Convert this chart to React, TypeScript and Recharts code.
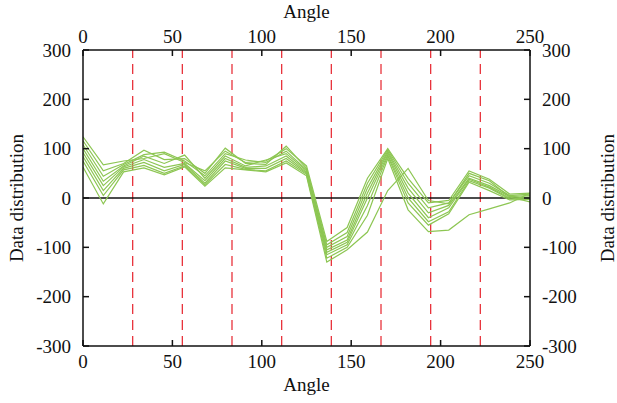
import React from 'react';
import { LineChart, Line, XAxis, YAxis, ReferenceLine, Label } from 'recharts';

const angles = [
  0, 11.36, 22.73, 34.09, 45.45, 56.82, 68.18, 79.55, 90.91, 102.27, 113.64, 125,
  136.36, 147.73, 159.09, 170.45, 181.82, 193.18, 204.55, 215.91, 227.27, 238.64, 250,
];

const series1 = [124, 67, 75, 80, 90, 72, 55, 95, 72, 75, 100, 65, -88, -60, 40, 100, 40, -10, -5, 55, 38, 8, 10];
const series2 = [116, 55, 70, 97, 78, 80, 50, 101, 70, 68, 105, 60, -95, -70, 30, 98, 30, -20, -10, 45, 30, 5, 8];
const series3 = [108, 44, 68, 88, 93, 75, 45, 90, 77, 72, 95, 57, -100, -78, 20, 95, 20, -30, -15, 40, 25, 3, 5];
const series4 = [100, 34, 65, 85, 70, 87, 40, 85, 65, 77, 90, 55, -105, -85, 10, 92, 10, -40, -20, 38, 22, 0, 2];
const series5 = [92, 25, 63, 78, 62, 70, 35, 80, 62, 65, 85, 52, -110, -90, 0, 88, 0, -48, -28, 35, 20, -2, 0];
const series6 = [84, 15, 60, 72, 55, 68, 30, 75, 60, 60, 80, 50, -115, -95, -15, 85, -10, -55, -32, 32, 15, -4, -3];
const series7 = [75, 5, 57, 66, 50, 65, 27, 68, 58, 55, 75, 48, -122, -100, -35, 80, -24, -68, -65, -34, -22, -10, 10];
const series8 = [63, -12, 53, 61, 47, 63, 24, 61, 57, 53, 71, 45, -130, -105, -69, 15, 60, -5, -12, 50, 35, 2, -8];

const allSeries = [series1, series2, series3, series4, series5, series6, series7, series8];

const xTicks = [0, 50, 100, 150, 200, 250];
const yTicks = [-300, -200, -100, 0, 100, 200, 300];
const dividers = [27.78, 55.56, 83.33, 111.11, 138.89, 166.67, 194.44, 222.22];

const data = angles.map((a, i) => {
  const row: { [key: string]: number } = { angle: a };
  allSeries.forEach((s, k) => {
    row[`s${k}`] = s[i];
  });
  return row;
});

const FONT = '"Liberation Serif", "Times New Roman", serif';
const tickStyle = { fill: '#111', fontSize: 19, fontFamily: FONT };

const VerticalTitle = (props: any) => {
  const { viewBox, dxFromLeft } = props;
  const x = viewBox.x + dxFromLeft;
  const y = viewBox.y + viewBox.height / 2;
  return (
    <text
      x={x}
      y={y}
      transform={`rotate(-90 ${x} ${y})`}
      textAnchor="middle"
      dominantBaseline="central"
      fill="#111"
      fontSize={19}
      fontFamily={FONT}
    >
      Data distribution
    </text>
  );
};

const App = () => {
  return (
    <div style={{ position: 'absolute', left: 0, top: 0, background: '#fff' }}>
      <LineChart width={617} height={403} data={data} margin={{ top: 0, right: 0, bottom: 0, left: 0 }}>
        <XAxis
          xAxisId="bottom"
          dataKey="angle"
          type="number"
          domain={[0, 250]}
          ticks={xTicks}
          orientation="bottom"
          height={57}
          tickSize={-6}
          tickMargin={15}
          tick={tickStyle}
          stroke="#111"
          strokeWidth={1.5}
          allowDataOverflow
        >
          <Label
            value="Angle"
            position="insideBottom"
            offset={12}
            style={{ fill: '#111', fontSize: 19, fontFamily: FONT }}
          />
        </XAxis>
        <XAxis
          xAxisId="top"
          dataKey="angle"
          type="number"
          domain={[0, 250]}
          ticks={xTicks}
          orientation="top"
          height={50}
          tickSize={-6}
          tickMargin={13}
          tick={tickStyle}
          stroke="#111"
          strokeWidth={1.5}
        >
          <Label
            value="Angle"
            position="insideTop"
            offset={5}
            style={{ fill: '#111', fontSize: 19, fontFamily: FONT }}
          />
        </XAxis>
        <YAxis
          yAxisId="left"
          type="number"
          domain={[-300, 300]}
          ticks={yTicks}
          width={83}
          tickSize={-6}
          tickMargin={18}
          tick={tickStyle}
          stroke="#111"
          strokeWidth={1.5}
          allowDataOverflow
        >
          <Label content={<VerticalTitle dxFromLeft={16} />} />
        </YAxis>
        <YAxis
          yAxisId="right"
          orientation="right"
          dataKey="s0"
          type="number"
          domain={[-300, 300]}
          ticks={yTicks}
          width={87}
          tickSize={-6}
          tickMargin={18}
          tick={tickStyle}
          stroke="#111"
          strokeWidth={1.5}
          allowDataOverflow
        >
          <Label content={<VerticalTitle dxFromLeft={77} />} />
        </YAxis>
        {dividers.map((d) => (
          <ReferenceLine
            key={`div-${d}`}
            x={d}
            xAxisId="bottom"
            yAxisId="left"
            stroke="#e8333c"
            strokeWidth={1.3}
            strokeDasharray="10 6"
          />
        ))}
        <ReferenceLine y={0} xAxisId="bottom" yAxisId="left" stroke="#111" strokeWidth={1.5} />
        {allSeries.map((_s, k) => (
          <Line
            key={`line-${k}`}
            xAxisId="bottom"
            yAxisId="left"
            dataKey={`s${k}`}
            type="linear"
            stroke="#8dc653"
            strokeWidth={1.2}
            dot={false}
            activeDot={false}
            isAnimationActive={false}
          />
        ))}
        <Line
          xAxisId="top"
          yAxisId="right"
          dataKey="s0"
          stroke="none"
          strokeWidth={0}
          dot={false}
          activeDot={false}
          legendType="none"
          isAnimationActive={false}
        />
      </LineChart>
    </div>
  );
};

export default App;
